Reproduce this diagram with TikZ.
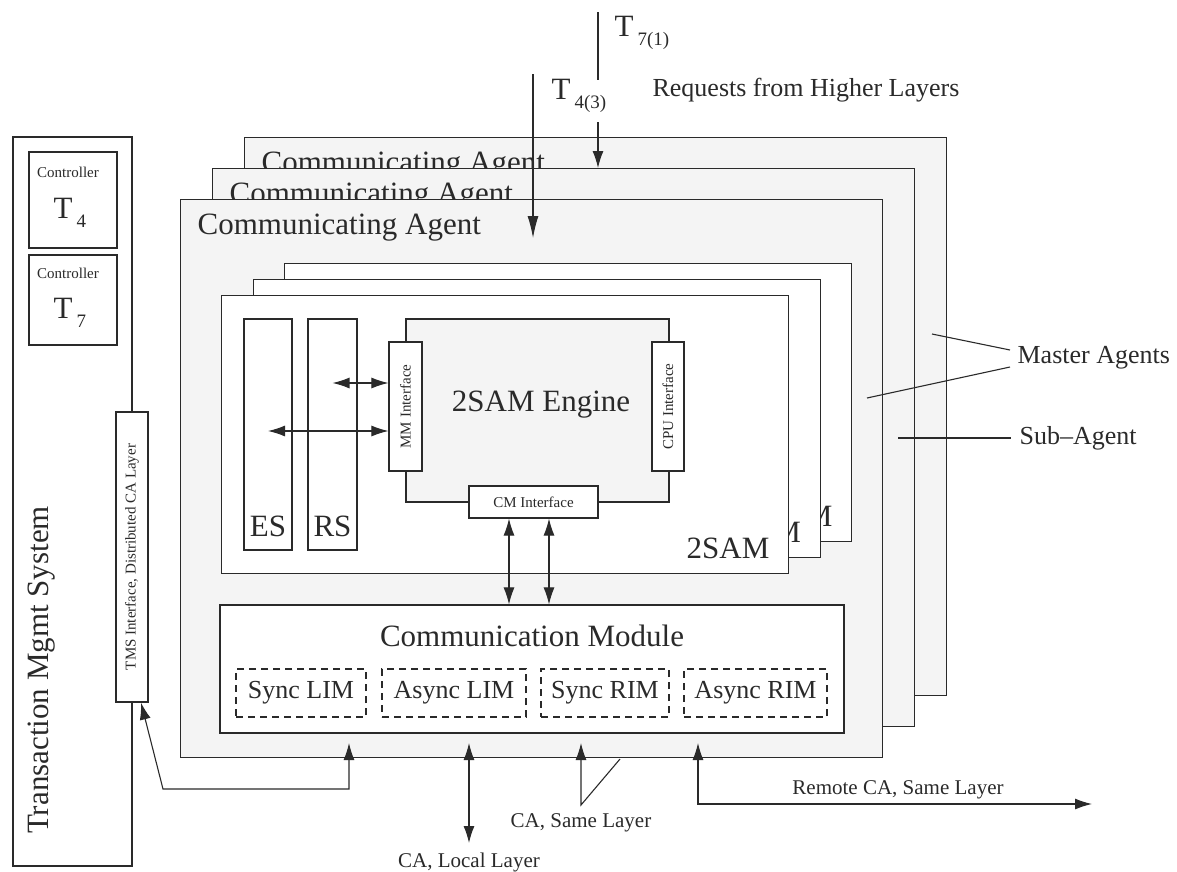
\documentclass[tikz,border=0pt]{standalone}
\usepackage{fontspec}
\setmainfont{Liberation Serif}
\usetikzlibrary{arrows.meta,positioning}
\definecolor{ink}{HTML}{2A2A2A}
\definecolor{haze}{HTML}{F4F4F4}
\newcommand\tsub[1]{\hspace{4pt}\raisebox{-9pt}{\fontsize{19}{19}\selectfont #1}}

\begin{document}
\begin{tikzpicture}[x=1pt,y=-1pt,line width=1.2pt,color=ink,
  box/.style={draw=ink,fill=white,inner sep=0pt},
  caframe/.style={box,fill=haze,anchor=north west,minimum width=702pt,minimum height=558pt},
  samframe/.style={box,anchor=north west,minimum width=567pt,minimum height=278pt},
  dashbox/.style={draw=ink,dash pattern=on 7pt off 5pt,line width=1.1pt,inner sep=0pt,minimum height=48pt},
  bigtext/.style={font=\fontsize{31}{31}\selectfont,inner sep=0pt},
  smalltext/.style={font=\fontsize{15}{15}\selectfont,inner sep=0pt},
  labtext/.style={font=\fontsize{26}{26}\selectfont,inner sep=0pt},
  foottext/.style={font=\fontsize{21}{21}\selectfont,inner sep=0pt},
  link/.style={draw=ink,line width=1.1pt},
  twoway/.style={link,{Latex[length=17pt,width=11pt]}-{Latex[length=17pt,width=11pt]}},
  oneway/.style={link,-{Latex[length=17pt,width=11pt]}}]
  \useasboundingbox (0,0) rectangle (1177,871);
  % transaction management system
  \node[box,minimum width=119pt,minimum height=729pt] (tms) at (72.5,501.5) {};
  \node[box,minimum width=88pt,minimum height=96pt] (ctl4) at (73,200) {};
  \node[box,minimum width=88pt,minimum height=90pt] (ctl7) at (73,300) {};
  \node[smalltext] (ctl4txt) at (68,172) {Controller};
  \node[smalltext] (ctl7txt) at (68,273) {Controller};
  \node[bigtext,anchor=west] (t4) at (53,213) {T\tsub{4}};
  \node[bigtext,anchor=west] (t7) at (53,313) {T\tsub{7}};
  \node[bigtext,rotate=90] (tmsname) at (42,670) {Transaction Mgmt System};
  \node[box,minimum width=32pt,minimum height=290pt] (tmsif) at (132,557) {};
  \node[smalltext,rotate=90] (tmsiftxt) at (tmsif) {TMS Interface, Distributed CA Layer};
  % communicating agents
  \foreach \i in {2,1,0}{
    \node[caframe] (ca\i) at (180+32*\i,199-31*\i) {};
    \node[bigtext,anchor=west] (catxt\i) at (197+32*\i,228-31*\i) {Communicating Agent};}
  % 2SAM
  \foreach \i in {2,1,0}{
    \node[samframe] (sam\i) at (221+31.5*\i,295-16*\i) {};
    \node[bigtext,anchor=base east] (samtxt\i) at (770+31.5*\i,558-16*\i) {2SAM};}
  \node[box,minimum width=48pt,minimum height=231pt] (es) at (268,434.5) {};
  \node[bigtext] (estxt) at (268,526) {ES};
  \node[box,minimum width=49pt,minimum height=231pt] (rs) at (332.5,434.5) {};
  \node[bigtext] (rstxt) at (332.5,526) {RS};
  \node[box,fill=haze,minimum width=263pt,minimum height=183pt] (engine) at (537.5,410.5) {};
  \node[bigtext] (enginetxt) at (541,405) {2SAM Engine};
  \node[box,minimum width=33pt,minimum height=129pt] (mm) at (405.5,406.5) {};
  \node[smalltext,rotate=90] (mmtxt) at (mm) {MM Interface};
  \node[box,minimum width=32pt,minimum height=129pt] (cpu) at (668,406.5) {};
  \node[smalltext,rotate=90] (cputxt) at (cpu) {CPU Interface};
  \node[box,minimum width=129pt,minimum height=32pt] (cm) at (533.5,502) {};
  \node[smalltext] (cmtxt) at (cm) {CM Interface};
  \draw[twoway] (rs.center |- 0,383) -- (mm.west |- 0,383);
  \draw[twoway] (es.center |- 0,431) -- (mm.west |- 0,431);
  % communication module
  \node[box,minimum width=624pt,minimum height=128pt] (comm) at (532,669) {};
  \node[bigtext] (commtxt) at (532,636) {Communication Module};
  \node[dashbox,labtext,minimum width=130pt] (slim) at (301,693) {Sync LIM};
  \node[dashbox,labtext,minimum width=144pt] (alim) at (454,693) {Async LIM};
  \node[dashbox,labtext,minimum width=128pt] (srim) at (605,693) {Sync RIM};
  \node[dashbox,labtext,minimum width=143pt] (arim) at (755.5,693) {Async RIM};
  \draw[twoway] (509,0 |- cm.south) -- (509,0 |- comm.north);
  \draw[twoway] (549,0 |- cm.south) -- (549,0 |- comm.north);
  % outside links
  \coordinate (limfoot) at (349,743);
  \coordinate (localfoot) at (469,743);
  \coordinate (localend) at (469,843);
  \coordinate (samefoot) at (581,743);
  \coordinate (samekink) at (620,759);
  \coordinate (remotefoot) at (698,743);
  \coordinate (remoteend) at (1092,804);
  \draw[twoway] (141,0 |- tmsif.south) -- (163,789) -- (349,789) -- (limfoot);
  \draw[twoway] (localfoot) -- (localend);
  \node[foottext] (localtxt) at (469,862) {CA, Local Layer};
  \draw[oneway] (samekink) -- (581,805) -- (samefoot);
  \node[foottext] (sametxt) at (581,823) {CA, Same Layer};
  \draw[twoway] (remotefoot) -- (698,804) -- (remoteend);
  \node[foottext] (remotetxt) at (898,790) {Remote CA, Same Layer};
  % requests from above
  \draw[link] (598,12) -- (598,80);
  \draw[oneway] (598,122) -- (598,0 |- ca1.north);
  \draw[link,-{Latex[length=22pt,width=11pt]}] (533,74) -- (533,238);
  \node[bigtext,anchor=west] (t7lbl) at (614,33) {T\tsub{7(1)}};
  \node[bigtext,anchor=west] (t4lbl) at (551,96) {T\tsub{4(3)}};
  \node[labtext,anchor=west] (reqtxt) at (652,90) {Requests from Higher Layers};
  % agent labels
  \node[labtext,anchor=west] (mastertxt) at (1017,358) {Master Agents};
  \node[labtext,anchor=west] (subtxt) at (1019,438) {Sub–Agent};
  \draw[link] (932,334) -- ([xshift=-7pt,yshift=8pt]mastertxt.west);
  \draw[link] (867,398) -- ([xshift=-7pt,yshift=-9pt]mastertxt.west);
  \draw[link] (898,438) -- ([xshift=-8pt]subtxt.west);
\end{tikzpicture}
\end{document}
